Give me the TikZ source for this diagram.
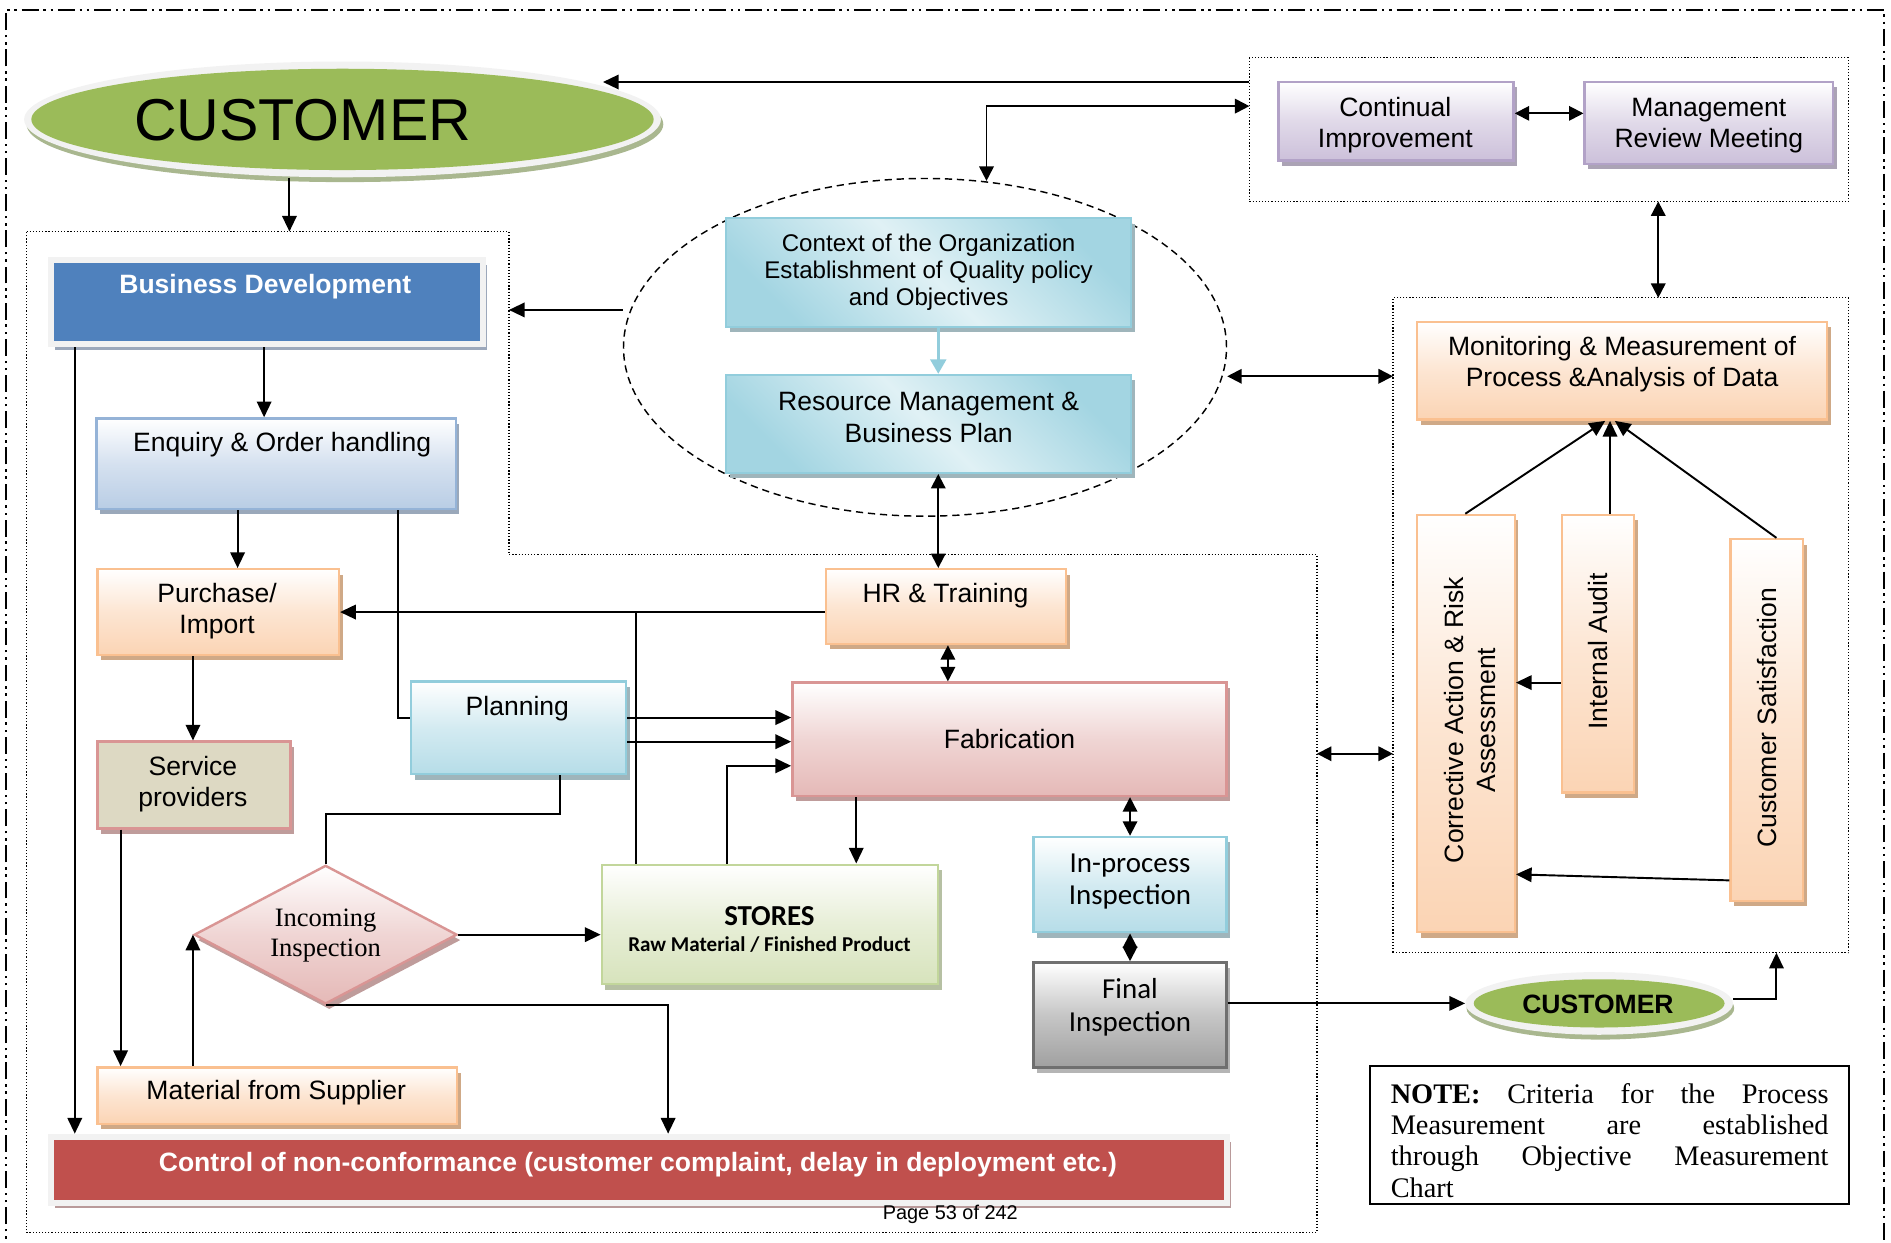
\documentclass[tikz,border=0pt]{standalone}
\usepackage{fontspec}
\setmainfont{Liberation Sans}
\newfontfamily\serifx{Liberation Serif}
\newfontfamily\carl{Carlito}
\usetikzlibrary{arrows.meta,shapes.geometric,shadows}
\newcommand\myfs[2]{\fontsize{#1}{#2}\selectfont}
\definecolor{bdblue}{HTML}{4F81BD}
\definecolor{frameg}{HTML}{F2F2F2}
\definecolor{enqB}{HTML}{B9CDE5}\definecolor{enqD}{HTML}{95B3D7}\definecolor{enqS}{HTML}{9AA8BA}
\definecolor{orB}{HTML}{FBD4B4}\definecolor{orD}{HTML}{FAC090}\definecolor{orS}{HTML}{CFA987}
\definecolor{tanB}{HTML}{DDD9C3}\definecolor{pinkD}{HTML}{D99594}\definecolor{pkS}{HTML}{BF9C9B}
\definecolor{aqB}{HTML}{B6DDE8}\definecolor{aqD}{HTML}{92CDDC}\definecolor{aqS}{HTML}{9FB5BB}
\definecolor{aqL}{HTML}{E0F1F5}\definecolor{aqM}{HTML}{A3D5E2}
\definecolor{pkB}{HTML}{E5B9B7}
\definecolor{grB}{HTML}{D7E3BC}\definecolor{grD}{HTML}{C2D69B}\definecolor{grS}{HTML}{B6C0A3}
\definecolor{gyB}{HTML}{A0A0A0}\definecolor{gyD}{HTML}{6F6F6F}\definecolor{gyS}{HTML}{B5B5B5}
\definecolor{puB}{HTML}{CCC0DA}\definecolor{puD}{HTML}{B2A2C7}\definecolor{puS}{HTML}{ABA3B5}
\definecolor{bdS}{HTML}{9CA8BB}
\definecolor{redC}{HTML}{C0504D}\definecolor{ctlS}{HTML}{B99A9A}
\definecolor{custG}{HTML}{9BBB59}\definecolor{custS}{HTML}{A9B78F}
\begin{document}
\begin{tikzpicture}[x=1pt,y=-1pt,
  arr/.style={-{Triangle[length=13pt,width=12pt]}, line width=1.6pt},
  darr/.style={{Triangle[length=12pt,width=12pt]}-{Triangle[length=12pt,width=12pt]}, line width=1.6pt},
  ln/.style={line width=1.6pt},
  grp/.style={line width=1pt, dash pattern=on 1pt off 1.6pt},
  grpbox/.style={rectangle, draw, inner sep=0pt, outer sep=0pt, line width=1pt, dash pattern=on 1pt off 1.6pt},
  shd/.style={drop shadow={shadow xshift=3pt,shadow yshift=-4.5pt,fill=#1,opacity=1}},
  bx/.style={rectangle, inner sep=0pt, line width=2pt},
  orbox/.style={bx, draw=orD, top color=white, bottom color=orB, middle color=orB!60!white, shd=orS},
  enqbox/.style={bx, draw=enqD, top color=white, bottom color=enqB, middle color=enqB!60!white, shd=enqS},
  aqbox/.style={bx, draw=aqD, top color=white, bottom color=aqB, middle color=aqB!60!white, shd=aqS},
  ctxbox/.style={bx, draw=aqD, shading=axis, top color=aqM, bottom color=aqM, middle color=aqL, shading angle=-45, shd=aqS},
  pkbox/.style={bx, draw=pinkD, top color=white, bottom color=pkB, middle color=pkB!60!white, shd=pkS},
  grbox/.style={bx, draw=grD, top color=white, bottom color=grB, middle color=grB!60!white, shd=grS},
  gybox/.style={bx, draw=gyD, top color=white, bottom color=gyB, middle color=gyB!60!white, shd=gyS},
  pubox/.style={bx, draw=puD, top color=white, bottom color=puB, middle color=puB!60!white, shd=puS},
  t/.style={font=\myfs{22}{26}, align=center, inner sep=0pt},
  tc/.style={font=\carl\myfs{24}{27}, align=center, inner sep=0pt}
]
\useasboundingbox (0,0) rectangle (1568,1030);
% outer frame
\draw[line width=1.6pt, dash pattern=on 14pt off 4pt on 2pt off 4pt on 2pt off 4pt] (5,1045) -- (5,8) -- (1562,8) -- (1562,1045);

% group boxes
\draw[grp] (22,192) -- (422,192) -- (422,460) -- (1092,460) -- (1092,1022) -- (22,1022) -- cycle;
\coordinate (lbtop) at (240,192);
\coordinate (lbR1) at (422,257);
\coordinate (lbR2) at (1092,625);
\node[grpbox, minimum width=497pt, minimum height=119pt] (tbox) at (1284.5,107.5) {};
\node[grpbox, minimum width=378pt, minimum height=543pt] (rbox) at (1344,518.5) {};

% big customer
\node[ellipse, fill=custS, minimum width=528pt, minimum height=96pt, inner sep=0pt] (custsh) at (286,103) {};
\node[ellipse, fill=frameg, minimum width=528pt, minimum height=96pt, inner sep=0pt] (cust) at (284,99) {};
\node[ellipse, fill=custG, minimum width=516pt, minimum height=84pt, inner sep=0pt] (custg) at (284,99) {};
\node[font=\myfs{49}{55}, inner sep=0pt] (custtxt) at (251,100) {CUSTOMER};
\coordinate (custarr) at (500,68);

% central dashed ellipse
\node[ellipse, draw, line width=1.2pt, dash pattern=on 6pt off 4pt, minimum width=500pt, minimum height=280pt, inner sep=0pt] (ell) at (767,288) {};
\coordinate (elltop) at (818,150);

% boxes
\node[bx, draw=frameg, line width=5pt, fill=bdblue, minimum width=358pt, minimum height=70pt, shd=bdS] (bd) at (221.5,250.5) {};
\node[t, font=\bfseries\myfs{22}{26}, text=white] (bdt) at (220,238) {Business Development};

\node[enqbox, minimum width=298pt, minimum height=75pt] (enq) at (229,384.5) {};
\node[t] (enqt) at (234,369) {Enquiry \& Order handling};

\node[orbox, minimum width=200pt, minimum height=71pt] (pur) at (181,507.5) {};
\node[t] (purt) at (180,507) {Purchase/\\Import};

\node[bx, draw=pinkD, fill=tanB, minimum width=160pt, minimum height=72pt, shd=pkS] (serv) at (161,651) {};
\node[t] (servt) at (160,650) {Service\\providers};

\node[orbox, minimum width=298pt, minimum height=47pt] (mat) at (230,908.5) {};
\node[t] (matt) at (229,906) {Material from Supplier};

\node[aqbox, minimum width=178pt, minimum height=77pt] (plan) at (430,603.5) {};
\node[t] (plant) at (429,588) {Planning};

\node[orbox, minimum width=199pt, minimum height=62pt] (hr) at (784.5,503) {};
\node[t] (hrt) at (784,494) {HR \& Training};

\node[pkbox, minimum width=360pt, minimum height=94pt] (fab) at (837,613) {};
\node[t] (fabt) at (837,613) {Fabrication};

\node[aqbox, minimum width=160pt, minimum height=79pt] (inp) at (937,733.5) {};
\node[tc] (inpt) at (937,731) {In-process\\Inspection};

\node[gybox, minimum width=160pt, minimum height=87pt] (fin) at (937,841.5) {};
\node[tc] (fint) at (937,835) {Final\\Inspection};

\node[grbox, minimum width=279pt, minimum height=99pt] (sto) at (638.5,766.5) {};
\node[inner sep=0pt, font=\carl\bfseries\myfs{24}{28}] (stot) at (638,760) {STORES};
\node[inner sep=0pt, font=\carl\bfseries\myfs{17.5}{20}] (stos) at (638,783) {Raw Material / Finished Product};

\node[diamond, draw=pinkD, line width=2pt, top color=white, bottom color=pkB, middle color=pkB!60!white, minimum width=218pt, minimum height=115pt, inner sep=0pt, shd=pkS] (dia) at (270,775) {};
\node[t, font=\serifx\myfs{22}{25}] (diat) at (270,776) {Incoming\\Inspection};

\node[ctxbox, minimum width=336pt, minimum height=90pt] (ctx) at (770,226) {};
\node[t, font=\myfs{20}{22.5}] (ctxt) at (770,226) {Context of the Organization\\Establishment of Quality policy\\and Objectives};

\node[ctxbox, minimum width=336pt, minimum height=81pt] (res) at (770,351.5) {};
\node[t] (rest) at (770,346) {Resource Management \&\\Business Plan};

\node[pubox, minimum width=195pt, minimum height=65pt] (ci) at (1157.5,100.5) {};
\node[pubox, minimum width=206pt, minimum height=68pt] (mrm) at (1417,102) {};
\begin{scope}
\clip (1061.5,69.5) rectangle (1253.5,131);
\node[t] (cit) at (1157,104) {Continual\\Improvement};
\end{scope}
\begin{scope}
\clip (1315.5,69.5) rectangle (1518.5,133);
\node[t] (mrmt) at (1417,104) {Management\\Review Meeting};
\end{scope}

\node[orbox, minimum width=340pt, minimum height=81pt] (mon) at (1345,307.5) {};
\node[t] (mont) at (1345,302) {Monitoring \& Measurement of\\Process \&Analysis of Data};

\node[orbox, minimum width=81pt, minimum height=346pt] (car) at (1215.5,600) {};
\node[t, rotate=90] (cart) at (1219,597) {Corrective Action \& Risk\\Assessment};
\node[orbox, minimum width=60pt, minimum height=230pt] (ia) at (1325,542) {};
\node[t, rotate=90] (iat) at (1325,540) {Internal Audit};
\node[orbox, minimum width=60pt, minimum height=300pt] (cs) at (1465,597) {};
\node[t, rotate=90] (cst) at (1465,595) {Customer Satisfaction};

\node[bx, draw=frameg, line width=5pt, fill=redC, minimum width=975pt, minimum height=55pt, shd=ctlS] (ctl) at (530,970) {};
\node[t, font=\bfseries\myfs{22}{26}, text=white] (ctlt) at (529,966) {Control of non-conformance (customer complaint, delay in deployment etc.)};
\node[inner sep=0pt, font=\myfs{16.5}{19}] (page) at (788,1007) {Page 53 of 242};

% small customer
\node[ellipse, fill=custS, minimum width=222pt, minimum height=52pt, inner sep=0pt] (cust2sh) at (1327,836) {};
\node[ellipse, fill=frameg, minimum width=222pt, minimum height=52pt, inner sep=0pt] (cust2) at (1326,832) {};
\node[ellipse, fill=custG, minimum width=208pt, minimum height=40pt, inner sep=0pt] (cust2g) at (1326,832) {};
\node[inner sep=0pt, font=\bfseries\myfs{22}{26}] (cust2t) at (1325,833) {CUSTOMER};

% note
\node[rectangle, draw, line width=1.5pt, minimum width=397pt, minimum height=114pt, inner sep=0pt] (note) at (1334.5,941) {};
\begin{scope}
\clip (1137,885) rectangle (1532,997);
\node[anchor=north west, inner sep=0pt, align=left, font=\serifx\myfs{23.5}{26}] (notet) at (1153,898)
 {\makebox[363pt][s]{\textbf{NOTE:} Criteria for the Process}\\
  \makebox[363pt][s]{Measurement are established}\\
  \makebox[363pt][s]{through Objective Measurement}\\
  Chart};
\end{scope}

% connectors
\draw[arr] (cust.south -| lbtop) -- (lbtop);
\draw[arr] (bd.south -| 219,0) -- (enq.north -| 219,0);
\draw[arr] (bd.south -| 62,0) -- (ctl.north -| 62,0);
\draw[arr] (enq.south -| 197,0) -- (pur.north -| 197,0);
\draw[ln] (enq.south -| 330,0) |- (plan.west |- 0,595);
\draw[arr] (hr.west |- pur.east) -- (pur.east);
\draw[ln] (sto.north -| 527,0) -- (pur.east -| 527,0);
\draw[arr] (pur.south -| 160,0) -- (serv.north -| 160,0);
\draw[arr] (serv.south -| 100,0) -- (mat.north -| 100,0);
\draw[arr] (plan.east |- 0,595) -- (fab.west |- 0,595);
\draw[arr] (plan.east |- 0,615) -- (fab.west |- 0,615);
\draw[ln] (plan.south -| 464,0) |- (dia.north |- 0,675) -- (dia.north);
\draw[arr] (dia.east) -- (dia.east -| sto.west);
\draw[arr] (dia.south) -| (ctl.north -| 554,0);
\draw[arr] (mat.north -| dia.west) -- (dia.west);
\draw[arr] (sto.north -| 603,0) |- (fab.west |- 0,635);
\draw[arr] (fab.south -| 710,0) -- (sto.north -| 710,0);
\draw[darr] (hr.south -| 786,0) -- (fab.north -| 786,0);
\draw[darr] (fab.south -| inp.north) -- (inp.north);
\draw[darr] (inp.south) -- (fin.north);
\draw[arr] (fin.east |- cust2.west) -- (cust2.west);
\draw[arr] (cust2.east |- 0,828) -| (rbox.south -| 1473,0);
\draw[-{Triangle[length=12pt,width=13pt]}, line width=2.5pt, draw=aqD, fill=aqD] (ctx.south -| 778,0) -- (res.north -| 778,0);
\draw[darr] (res.south -| 778,0) -- (hr.north -| 778,0);
\draw[arr] (ell.west |- 0,257) -- (lbR1);
\draw[arr] (tbox.west |- custarr) -- (custarr);
\draw[darr] (elltop) |- (tbox.west |- 0,88);
\draw[darr] (ci.east |- 0,94) -- (mrm.west |- 0,94);
\draw[darr] (tbox.south -| 1375,0) -- (rbox.north -| 1375,0);
\draw[darr] (ell.east |- 0,312) -- (rbox.west |- 0,312);
\draw[darr] (lbR2) -- (rbox.west |- lbR2);
\draw[arr] (car.north -| 1215,0) -- (mon.south -| 1331,0);
\draw[arr] (ia.north -| 1335,0) -- (mon.south -| 1335,0);
\draw[arr] (cs.north -| 1473,0) -- (mon.south -| 1339,0);
\draw[arr] (ia.west |- 0,566) -- (car.east |- 0,566);
\draw[arr] (cs.west |- 0,730) -- (car.east |- 0,725);
\end{tikzpicture}
\end{document}
